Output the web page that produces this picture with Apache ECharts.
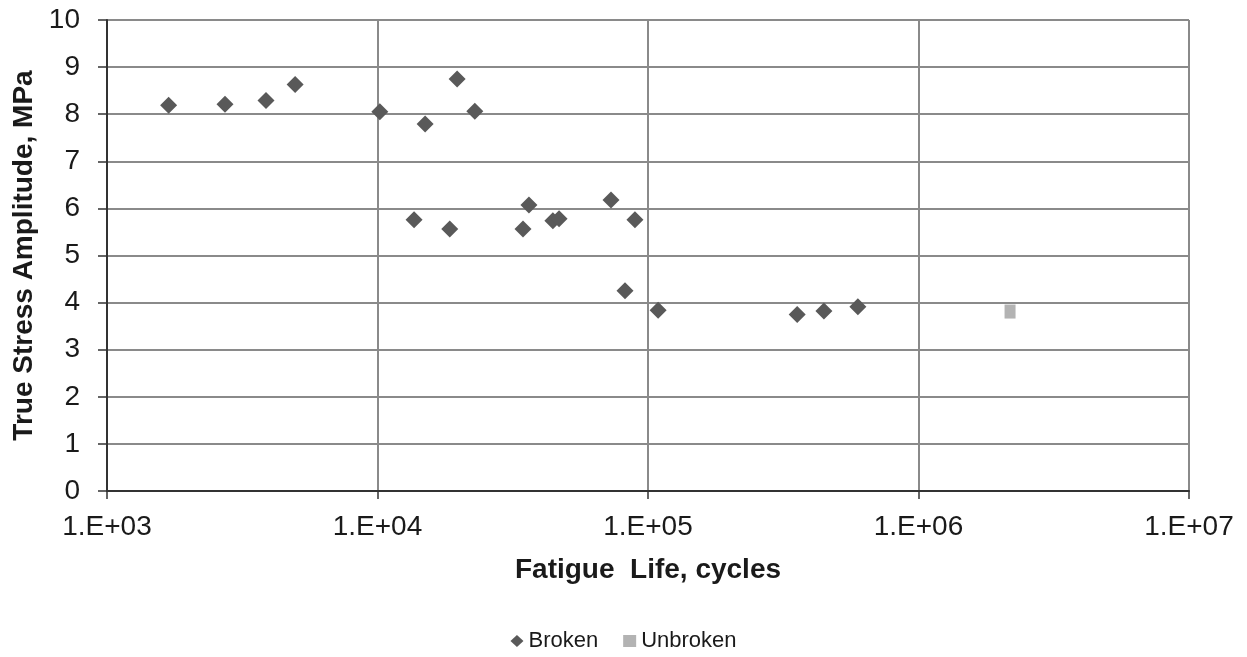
<!DOCTYPE html>
<html>
<head>
<meta charset="utf-8">
<script src="https://cdn.jsdelivr.net/npm/echarts@6/dist/echarts.min.js"></script>
<style>
html,body{margin:0;padding:0;background:#fff;}
#chart{width:1247px;height:657px;}
</style>
</head>
<body>
<div id="chart"></div>
<script>
var brokenCycles = [1690, 2730, 3870, 4960, 10200, 15000, 19700, 22900, 13650, 18500, 34500, 36300, 44500, 46900, 73000, 89500, 82200, 109000, 356000, 447000, 597000];
var brokenStress = [8.19, 8.21, 8.29, 8.63, 8.05, 7.79, 8.75, 8.06, 5.76, 5.56, 5.56, 6.07, 5.74, 5.78, 6.18, 5.76, 4.25, 3.84, 3.75, 3.82, 3.91];
var unbrokenCycles = [2180000];
var unbrokenStress = [3.81];
var xTickExponents = [3, 4, 5, 6, 7];
var yTicks = [0,1,2,3,4,5,6,7,8,9,10];
var seriesNames = ['Broken', 'Unbroken'];

function pairs(xs, ys){ return xs.map(function(x,i){ return [x, ys[i]]; }); }
function fmtExp(v){
  var e = Math.round(Math.log10(v));
  return '1.E+' + (e < 10 ? '0' + e : e);
}

var font = 'Liberation Sans, Arial, sans-serif';
var chart = echarts.init(document.getElementById('chart'));
chart.setOption({
  animation: false,
  backgroundColor: '#ffffff',
  grid: { left: 107, right: 58, top: 20, bottom: 166 },
  legend: {
    data: [
      { name: seriesNames[0], icon: 'diamond', itemStyle: { color: '#595959' } },
      { name: seriesNames[1], icon: 'rect', itemStyle: { color: '#b3b3b3' } }
    ],
    bottom: 0,
    left: 'center',
    itemWidth: 13,
    itemHeight: 12,
    itemGap: 25,
    textStyle: { fontFamily: font, fontSize: 22, color: '#1a1a1a' }
  },
  xAxis: {
    type: 'log',
    logBase: 10,
    min: Math.pow(10, xTickExponents[0]),
    max: Math.pow(10, xTickExponents[xTickExponents.length - 1]),
    name: 'Fatigue  Life, cycles',
    nameLocation: 'middle',
    nameGap: 65,
    nameTextStyle: { fontFamily: font, fontSize: 28, fontWeight: 'bold', color: '#1a1a1a' },
    axisLine: { show: true, onZero: false, lineStyle: { color: '#333', width: 2 } },
    axisTick: { show: true, length: 8, lineStyle: { color: '#333', width: 1.5 } },
    axisLabel: { formatter: fmtExp, fontFamily: font, fontSize: 28, color: '#1a1a1a', margin: 22 },
    splitLine: { show: true, lineStyle: { color: '#8a8a8a', width: 2 } },
    minorTick: { show: false }
  },
  yAxis: {
    type: 'value',
    min: yTicks[0],
    max: yTicks[yTicks.length - 1],
    interval: 1,
    name: 'True Stress Amplitude, MPa',
    nameLocation: 'middle',
    nameGap: 61,
    nameRotate: 90,
    nameTextStyle: { fontFamily: font, fontSize: 28, fontWeight: 'bold', color: '#1a1a1a' },
    axisLine: { show: true, lineStyle: { color: '#333', width: 2 } },
    axisTick: { show: true, length: 9, lineStyle: { color: '#333', width: 1.5 } },
    axisLabel: { fontFamily: font, fontSize: 28, color: '#1a1a1a', margin: 27 },
    splitLine: { show: true, lineStyle: { color: '#8a8a8a', width: 2 } }
  },
  series: [
    {
      name: seriesNames[0],
      type: 'scatter',
      symbol: 'diamond',
      symbolSize: [17, 17],
      itemStyle: { color: '#595959', opacity: 1 },
      data: pairs(brokenCycles, brokenStress),
      z: 3
    },
    {
      name: seriesNames[1],
      type: 'scatter',
      symbol: 'rect',
      symbolSize: [11, 14],
      itemStyle: { color: '#b3b3b3', opacity: 1 },
      data: pairs(unbrokenCycles, unbrokenStress),
      z: 3
    }
  ]
});
</script>
</body>
</html>
